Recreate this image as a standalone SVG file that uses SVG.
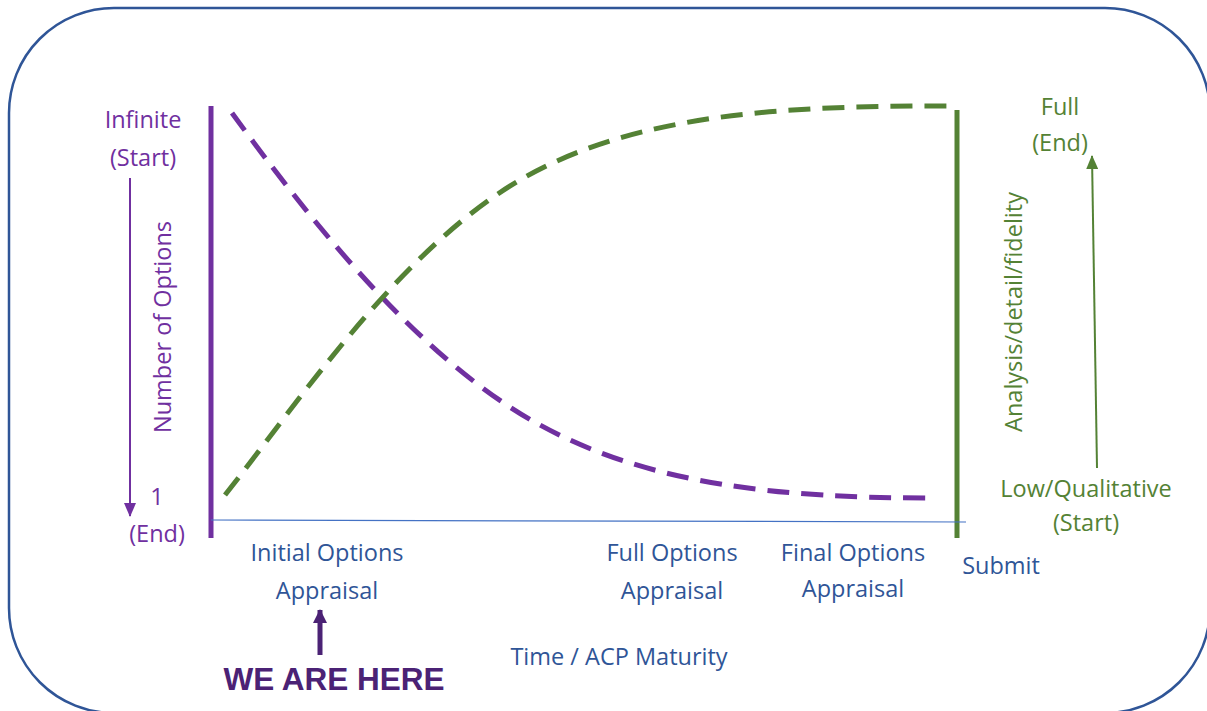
<svg xmlns="http://www.w3.org/2000/svg" width="1207" height="711" viewBox="0 0 1207 711">
<defs>
<style>
.t{font-family:"Open Sans","Liberation Sans",sans-serif;font-size:23.5px;text-anchor:middle}
.p{fill:#7030A0}
.g{fill:#548235}
.b{fill:#2F5597}
.dash{fill:none;stroke-width:5;stroke-dasharray:22 12}
</style>
<marker id="ap" viewBox="0 0 14 12" refX="13" refY="6" markerWidth="14" markerHeight="12" orient="auto" markerUnits="userSpaceOnUse"><path d="M0,0 L14,6 L0,12 z" fill="#7030A0"/></marker>
<marker id="ag" viewBox="0 0 14 12" refX="13" refY="6" markerWidth="14" markerHeight="12" orient="auto" markerUnits="userSpaceOnUse"><path d="M0,0 L14,6 L0,12 z" fill="#548235"/></marker>
<marker id="ad" viewBox="0 0 14 14" refX="13" refY="7" markerWidth="14" markerHeight="14" orient="auto" markerUnits="userSpaceOnUse"><path d="M0,0 L14,7 L0,14 z" fill="#4B2275"/></marker>
</defs>
<rect width="1207" height="711" fill="#fff"/>
<rect id="frame" x="9" y="8" width="1201" height="705" rx="105" ry="105" fill="none" stroke="#2F5597" stroke-width="2.5"/>
<g id="axes">
<line x1="211" y1="106" x2="211" y2="538" stroke="#7030A0" stroke-width="5"/>
<line x1="957" y1="110" x2="957" y2="538" stroke="#548235" stroke-width="5"/>
<line x1="211" y1="520" x2="966" y2="522" stroke="#4472C4" stroke-width="1.2"/>
</g>
<g id="curves">
<path class="dash" stroke="#7030A0" d="M232,113 C310,220 420,360 540,425 C650,485 780,498 932,498"/>
<path class="dash" stroke="#548235" d="M225,495 C300,400 400,250 520,180 C640,110 800,106 950,106"/>
</g>
<g id="left-axis">
<text class="t p" x="143" y="128">Infinite</text>
<text class="t p" x="143" y="166">(Start)</text>
<line x1="130" y1="178" x2="130" y2="516" stroke="#7030A0" stroke-width="2" marker-end="url(#ap)"/>
<text class="t p" transform="translate(171,327) rotate(-90)">Number of Options</text>
<text class="t p" x="157" y="505">1</text>
<text class="t p" x="157" y="542">(End)</text>
</g>
<g id="right-axis">
<text class="t g" x="1060" y="115">Full</text>
<text class="t g" x="1060" y="151">(End)</text>
<line x1="1097" y1="468" x2="1092" y2="156" stroke="#548235" stroke-width="2" marker-end="url(#ag)"/>
<text class="t g" transform="translate(1022,312) rotate(-90)">Analysis/detail/fidelity</text>
<text class="t g" x="1086" y="497">Low/Qualitative</text>
<text class="t g" x="1086" y="531">(Start)</text>
</g>
<g id="stages">
<text class="t b" x="327" y="561">Initial Options</text>
<text class="t b" x="327" y="599">Appraisal</text>
<text class="t b" x="672" y="561">Full Options</text>
<text class="t b" x="672" y="599">Appraisal</text>
<text class="t b" x="853" y="561">Final Options</text>
<text class="t b" x="853" y="597">Appraisal</text>
<text class="t b" x="1001" y="574">Submit</text>
<text class="t b" x="619" y="665">Time / ACP Maturity</text>
</g>
<g id="here">
<line x1="320" y1="655" x2="320" y2="610" stroke="#4B2275" stroke-width="5" marker-end="url(#ad)"/>
<text x="334" y="690" style="font-family:'Liberation Sans',Arial,sans-serif;font-weight:bold;font-size:31.5px;text-anchor:middle" fill="#4B2275">WE ARE HERE</text>
</g>
</svg>
